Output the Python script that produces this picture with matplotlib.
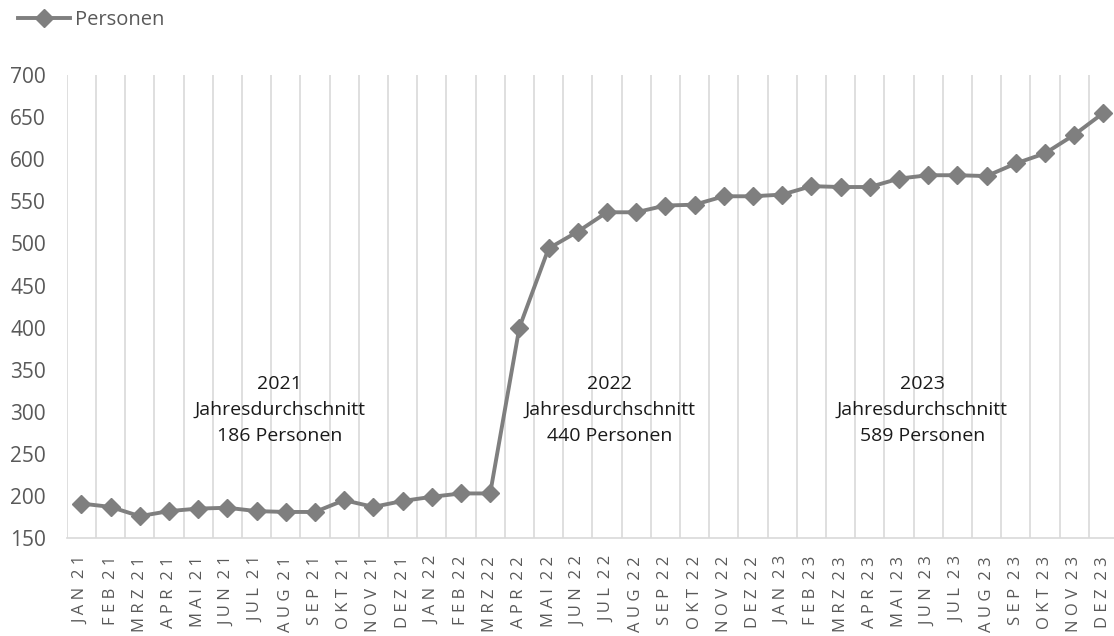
import matplotlib.pyplot as plt

months = ["JAN", "FEB", "MRZ", "APR", "MAI", "JUN",
          "JUL", "AUG", "SEP", "OKT", "NOV", "DEZ"]
years = ["21", "22", "23"]
personen = [191, 187, 176, 182, 185, 186, 182, 181, 181, 195, 187, 194,
            199, 203, 203, 400, 494, 514, 537, 537, 545, 546, 556, 556,
            558, 568, 567, 567, 577, 581, 581, 580, 595, 607, 629, 655]
notes = ["2021\nJahresdurchschnitt\n186 Personen",
         "2022\nJahresdurchschnitt\n440 Personen",
         "2023\nJahresdurchschnitt\n589 Personen"]
note_x = [6.8, 18.1, 28.8]
note_y = [302, 302, 302]

labels = []
for y in years:
    for m in months:
        labels.append(" ".join(m) + "  " + " ".join(y))

plt.rcParams['font.family'] = ['Open Sans', 'DejaVu Sans']

fig = plt.figure(figsize=(11.14, 6.36), dpi=100)
ax = fig.add_axes([0.0599, 0.154, 0.9437, 0.728])

x = list(range(len(personen)))
ax.plot(x, personen, color="#7f7f7f", lw=2.8, marker="D", markersize=9,
        label="Personen", zorder=3)

ax.set_xlim(-0.5, len(personen) - 0.5)
ax.set_ylim(150, 700)
ax.set_yticks(range(150, 701, 50))
ax.set_xticks(x)
ax.set_xticklabels(labels, rotation=90, fontsize=12, color="#595959")
ax.set_xticks([i - 0.5 for i in range(len(personen) + 1)], minor=True)
ax.grid(True, which="minor", axis="x", color="#d9d9d9", lw=1.2)
ax.tick_params(axis="x", which="both", length=0, pad=13)
ax.tick_params(axis="y", length=0, labelsize=15, labelcolor="#595959", pad=15)
for s in ["top", "right", "left"]:
    ax.spines[s].set_visible(False)
ax.spines["bottom"].set_color("#d9d9d9")
ax.spines["bottom"].set_linewidth(1.2)

for t, nx, ny in zip(notes, note_x, note_y):
    ax.text(nx, ny, t, ha="center", va="center", fontsize=14,
            color="#1a1a1a", linespacing=1.55)

fig.legend(loc="upper left", bbox_to_anchor=(0.0, 1.012), frameon=False,
           fontsize=14.5, labelcolor="#595959", handlelength=2.6,
           handletextpad=0.2)

fig.savefig("out.png", dpi=100)
